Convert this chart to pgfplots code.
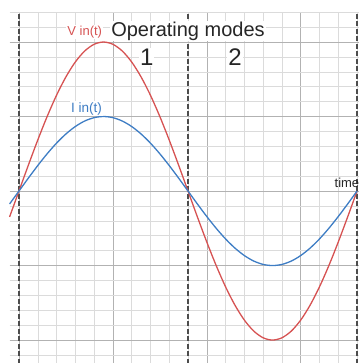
\documentclass[border=0pt]{standalone}
\usepackage{pgfplots}
\pgfplotsset{compat=1.18}
\usepackage{pgfplotstable}
\usepackage{fontspec}
\setmainfont{Liberation Sans}
\definecolor{vred}{RGB}{214,82,82}
\definecolor{iblue}{RGB}{62,125,196}
\pgfplotstableread{
x v i
-0.5 -1.7365 -0.8682
0 0 0
0.5 1.7365 0.8682
1 3.4202 1.7101
1.5 5 2.5
2 6.4279 3.2139
2.5 7.6604 3.8302
3 8.6603 4.3301
3.5 9.3969 4.6985
4 9.8481 4.9240
4.5 10 5
5 9.8481 4.9240
5.5 9.3969 4.6985
6 8.6603 4.3301
6.5 7.6604 3.8302
7 6.4279 3.2139
7.5 5 2.5
8 3.4202 1.7101
8.5 1.7365 0.8682
9 0 0
9.5 -1.7365 -0.8682
10 -3.4202 -1.7101
10.5 -5 -2.5
11 -6.4279 -3.2139
11.5 -7.6604 -3.8302
12 -8.6603 -4.3301
12.5 -9.3969 -4.6985
13 -9.8481 -4.9240
13.5 -10 -5
14 -9.8481 -4.9240
14.5 -9.3969 -4.6985
15 -8.6603 -4.3301
15.5 -7.6604 -3.8302
16 -6.4279 -3.2139
16.5 -5 -2.5
17 -3.4202 -1.7101
17.5 -1.7365 -0.8682
18 0 0
}\datatable
\begin{document}
\begin{tikzpicture}
\begin{axis}[
  x=18.78pt, y=14.9pt,
  xmin=-0.5, xmax=18.1, ymin=-11.6, ymax=12,
  axis line style={draw=none},
  tick style={draw=none},
  xtick={0,5,10,15}, ytick={-10,-5,0,5,10},
  minor xtick={-0,1,...,18}, minor ytick={-11,-10,...,12},
  xticklabels={}, yticklabels={},
  grid=both,
  major grid style={gray!60, line width=0.55pt},
  minor grid style={gray!28, line width=0.5pt},
  clip=false,
]
\addplot[black!70, line width=1.2pt, dash pattern=on 5pt off 2.5pt] coordinates {(0,-11.6) (0,12)};
\addplot[black!70, line width=1.2pt, dash pattern=on 5pt off 2.5pt] coordinates {(9,-11.6) (9,12)};
\addplot[black!70, line width=1.2pt, dash pattern=on 5pt off 2.5pt] coordinates {(18,-11.6) (18,12)};
\addplot[vred, line width=1.3pt, smooth] table[x=x, y=v] {\datatable};
\addplot[iblue, line width=1.3pt, smooth] table[x=x, y=i] {\datatable};
\node[anchor=base, fill=white, inner sep=1pt, text=black!85, font=\fontsize{20}{24}\selectfont] at (axis cs:9,10.4) {Operating modes};
\node[anchor=base, fill=white, inner sep=1pt, text=black!85, font=\fontsize{24}{28}\selectfont] at (axis cs:6.8,8.45) {1};
\node[anchor=base, fill=white, inner sep=1pt, text=black!85, font=\fontsize{24}{28}\selectfont] at (axis cs:11.5,8.45) {2};
\node[anchor=base, fill=white, inner sep=1pt, text=vred, font=\fontsize{13}{15}\selectfont] at (axis cs:3.5,10.47) {V in(t)};
\node[anchor=base, fill=white, inner sep=1pt, text=iblue, font=\fontsize{13.5}{15}\selectfont] at (axis cs:3.6,5.3) {I in(t)};
\node[anchor=base west, inner sep=0.5pt, text=black!85, font=\fontsize{13}{15}\selectfont] at (axis cs:16.77,0.27) {time};
\coordinate (bl) at (axis cs:-1.01,-11.54);
\coordinate (tr) at (axis cs:18.1,12.82);
\end{axis}
\pgfresetboundingbox
\path[use as bounding box] (bl) rectangle (tr);
\end{tikzpicture}
\end{document}
